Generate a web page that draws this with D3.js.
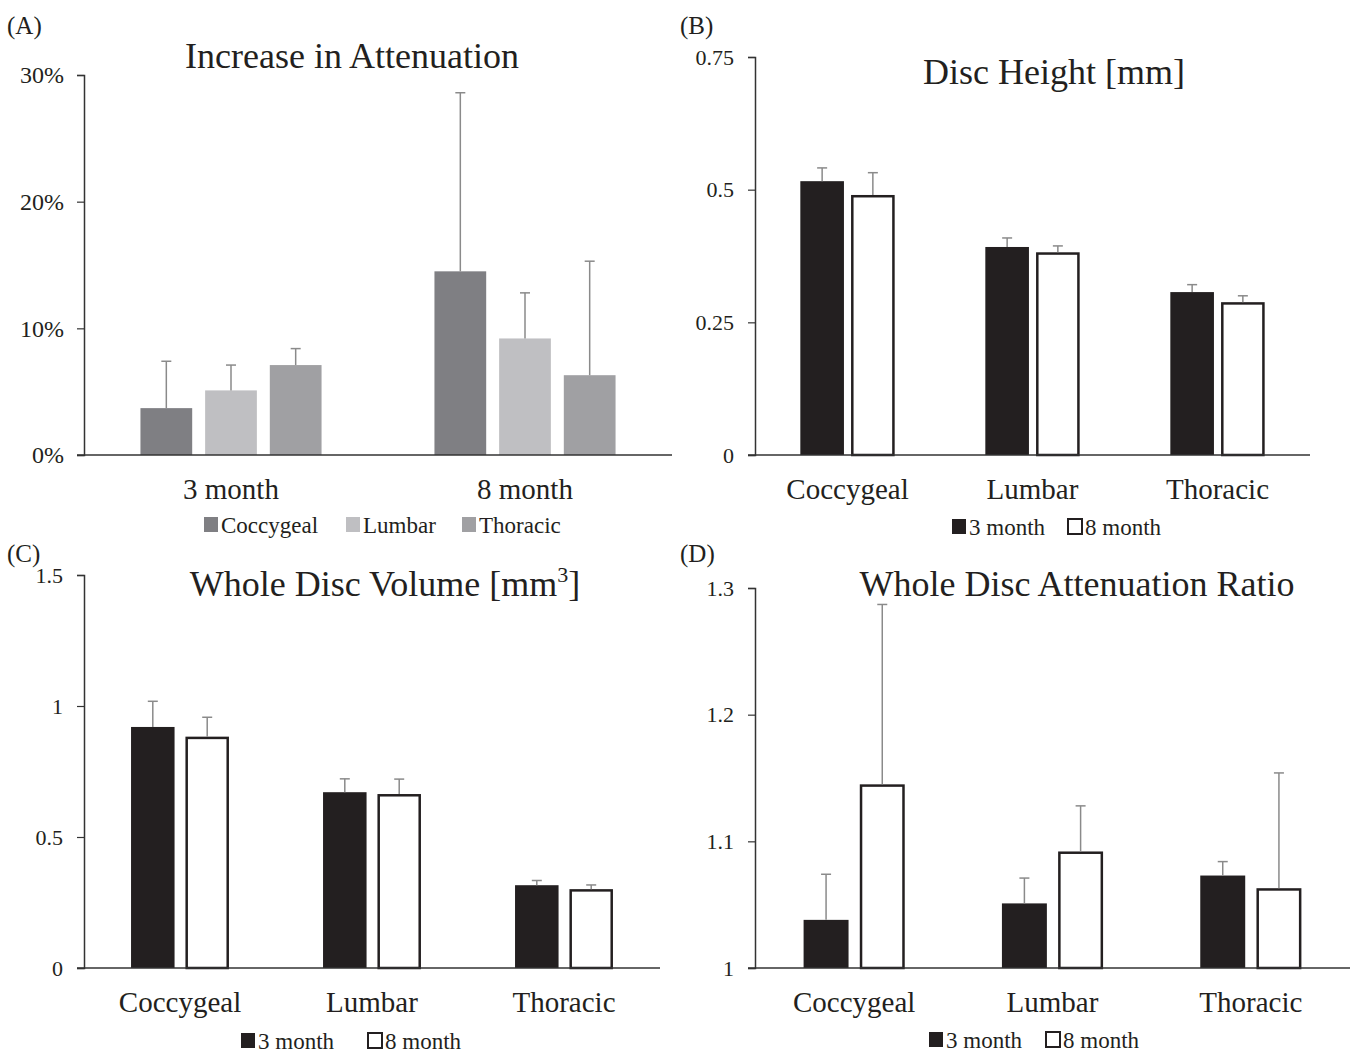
<!DOCTYPE html>
<head>
    <style>
        body { margin: 0; background: #fff; }
        text { font-family: "Liberation Serif", "DejaVu Serif", serif; fill: #231f20; }
    </style>
</head>
<body>
    <script src="https://d3js.org/d3.v7.min.js"></script>
    <script>
        // panel A data
        const groupsA = ["3 month", "8 month"];
        const regionsA = ["Coccygeal", "Lumbar", "Thoracic"];
        const meanA = [[0.037, 0.051, 0.071], [0.145, 0.092, 0.063]];
        const errA = [[0.037, 0.020, 0.013], [0.141, 0.036, 0.090]];
        const colorsA = ["#7f7f83", "#bfbfc2", "#a0a0a3"];

        // panels B, C, D data (per region: [3 month, 8 month])
        const regions = ["Coccygeal", "Lumbar", "Thoracic"];
        const ages = ["3 month", "8 month"];
        const heightMean = [[0.516, 0.490], [0.392, 0.382], [0.307, 0.288]];
        const heightErr = [[0.025, 0.042], [0.017, 0.012], [0.014, 0.012]];
        const volMean = [[0.920, 0.883], [0.671, 0.664], [0.316, 0.301]];
        const volErr = [[0.098, 0.074], [0.051, 0.057], [0.018, 0.016]];
        const ratioMean = [[1.038, 1.145], [1.051, 1.092], [1.073, 1.063]];
        const ratioErr = [[0.036, 0.142], [0.020, 0.036], [0.011, 0.091]];

        const svg = d3.select("body").append("svg").attr("width", 1355).attr("height", 1054);

        function panel(o) {
            const g = svg.append("g");
            const y = d3.scaleLinear().domain(o.domain).range([o.y1, o.y0]);
            const x0 = d3.scaleBand().domain(o.cats).range([o.x0, o.x1]).paddingInner(o.pad).paddingOuter(o.pad / 2);
            const x1 = d3.scaleBand().domain(o.series).range([0, x0.bandwidth()]).paddingInner(o.innerPad).paddingOuter(0);

            // panel letter + title
            g.append("text").attr("x", o.lx).attr("y", o.ly).attr("font-size", 25).text(o.letter);
            const t = g.append("text").attr("x", o.tx).attr("y", o.ty).attr("font-size", 36).attr("text-anchor", "middle").text(o.title);
            if (o.sup) t.append("tspan").attr("font-size", 22).attr("dy", -14).text(o.sup);
            if (o.sup) t.append("tspan").attr("dy", 14).text("]");

            // bars
            o.cats.forEach((c, i) => {
                o.series.forEach((s, j) => {
                    const v = o.mean[i][j], e = o.err[i][j];
                    const bx = x0(c) + x1(s);
                    const st = o.style(j);
                    g.append("rect")
                        .attr("x", bx + st.sw / 2).attr("y", y(v) + st.sw / 2)
                        .attr("width", x1.bandwidth() - st.sw).attr("height", y(o.domain[0]) - y(v) - st.sw / 2)
                        .attr("fill", st.fill).attr("stroke", st.stroke).attr("stroke-width", st.sw);
                    const cx = bx + x1.bandwidth() / 2;
                    g.append("line").attr("x1", cx).attr("x2", cx).attr("y1", y(v)).attr("y2", y(v + e))
                        .attr("stroke", "#8a8a8a").attr("stroke-width", 1.5);
                    g.append("line").attr("x1", cx - 5).attr("x2", cx + 5).attr("y1", y(v + e)).attr("y2", y(v + e))
                        .attr("stroke", "#8a8a8a").attr("stroke-width", 1.5);
                })
            })

            // y axis
            const ya = g.append("g").attr("transform", `translate(${o.x0},0)`)
                .call(d3.axisLeft(y).tickValues(o.ticks).tickFormat(o.fmt).tickSize(7).tickPadding(o.tickPad));
            ya.select(".domain").attr("stroke", "#333").attr("stroke-width", 1.5);
            ya.selectAll(".tick line").attr("stroke", "#333").attr("stroke-width", 1.2);
            ya.selectAll(".tick text").attr("font-size", o.tickFont).attr("font-family", "Liberation Serif").attr("fill", "#231f20");

            // x axis
            g.append("line").attr("x1", o.x0 - 7).attr("x2", o.x1).attr("y1", o.y1).attr("y2", o.y1)
                .attr("stroke", "#333").attr("stroke-width", 1.5);
            o.cats.forEach(c => {
                g.append("text").attr("x", x0(c) + x0.bandwidth() / 2).attr("y", o.y1 + 44)
                    .attr("font-size", 29).attr("text-anchor", "middle").text(c);
            })

            // legend
            o.series.forEach((s, j) => {
                const st = o.style(j);
                const lx = o.legX[j];
                g.append("rect").attr("x", lx + 1).attr("y", o.legY - 16).attr("width", 14).attr("height", 15)
                    .attr("fill", st.fill).attr("stroke", st.stroke).attr("stroke-width", st.sw ? 2 : 0);
                g.append("text").attr("x", lx + 18).attr("y", o.legY).attr("font-size", 23).text(s);
            })
        }

        const ageStyle = j => j == 0 ? {fill: "#231f20", stroke: "#231f20", sw: 0} : {fill: "#fff", stroke: "#231f20", sw: 2.5};

        panel({
            letter: "(A)", lx: 7, ly: 34, title: "Increase in Attenuation", tx: 352, ty: 68,
            x0: 84, x1: 672, y0: 75, y1: 455, domain: [0, 0.30], ticks: [0, 0.1, 0.2, 0.3], fmt: d3.format(".0%"), tickPad: 13, tickFont: 24,
            cats: groupsA, series: regionsA, mean: meanA, err: errA, pad: 0.384, innerPad: 0.2,
            style: j => ({fill: colorsA[j], stroke: "none", sw: 0}),
            legX: [203, 345, 461], legY: 533
        });

        panel({
            letter: "(B)", lx: 680, ly: 34, title: "Disc Height [mm]", tx: 1054, ty: 84,
            x0: 755, x1: 1310, y0: 57, y1: 455, domain: [0, 0.75], ticks: [0, 0.25, 0.5, 0.75], fmt: d => d === 0 ? "0" : String(d), tickPad: 14, tickFont: 22,
            cats: regions, series: ages, mean: heightMean, err: heightErr, pad: 0.49, innerPad: 0.14,
            style: ageStyle, legX: [951, 1067], legY: 535
        });

        panel({
            letter: "(C)", lx: 7, ly: 562, title: "Whole Disc Volume [mm", sup: "3", tx: 385, ty: 596,
            x0: 84, x1: 660, y0: 575, y1: 968, domain: [0, 1.5], ticks: [0, 0.5, 1, 1.5], fmt: d => String(d), tickPad: 14, tickFont: 22,
            cats: regions, series: ages, mean: volMean, err: volErr, pad: 0.49, innerPad: 0.2,
            style: ageStyle, legX: [240, 367], legY: 1049
        });

        panel({
            letter: "(D)", lx: 680, ly: 562, title: "Whole Disc Attenuation Ratio", tx: 1077, ty: 596,
            x0: 755, x1: 1350, y0: 588, y1: 968, domain: [1, 1.3], ticks: [1, 1.1, 1.2, 1.3], fmt: d => String(d), tickPad: 14, tickFont: 22,
            cats: regions, series: ages, mean: ratioMean, err: ratioErr, pad: 0.49, innerPad: 0.2,
            style: ageStyle, legX: [928, 1045], legY: 1048
        });
    </script>
</body>
</html>
